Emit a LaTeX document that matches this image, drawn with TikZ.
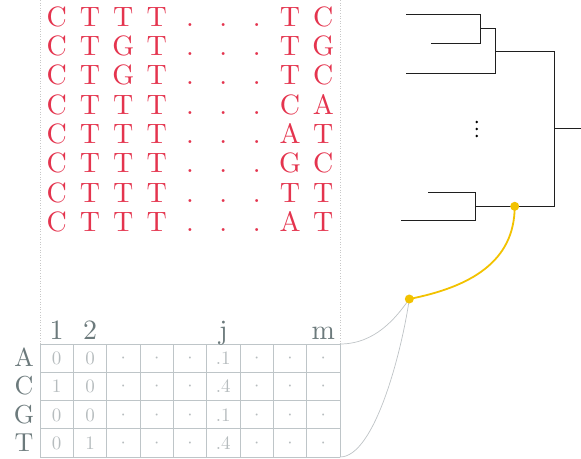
\documentclass[tikz,border=0pt]{standalone}
\usepackage{fontspec}
\setmainfont{lmroman10-regular.otf}
\definecolor{seqred}{RGB}{228,52,78}
\definecolor{labelgray}{RGB}{108,122,124}
\definecolor{valgray}{RGB}{182,188,190}
\definecolor{gridgray}{RGB}{190,197,200}
\definecolor{guidegray}{RGB}{200,200,200}
\definecolor{linkgray}{RGB}{190,195,198}
\definecolor{hiyellow}{RGB}{242,194,0}
\begin{document}
\begin{tikzpicture}[x=1pt,y=-1pt,
  seq/.style={text=seqred, font=\fontsize{28}{28}\selectfont, anchor=base, inner sep=0pt},
  collabel/.style={text=labelgray, font=\fontsize{28}{28}\selectfont, anchor=base, inner sep=0pt},
  rowlabel/.style={text=labelgray, font=\fontsize{26}{26}\selectfont, anchor=base, inner sep=0pt},
  cellval/.style={text=valgray, font=\fontsize{19}{19}\selectfont, anchor=base, inner sep=0pt},
  gridline/.style={draw=gridgray, line width=0.9pt},
  guide/.style={draw=guidegray, dotted, line width=0.6pt},
  branch/.style={draw=black!88, line width=1pt},
  link/.style={draw=linkgray, line width=0.7pt},
  hilite/.style={draw=hiyellow, line width=1.8pt},
  hidot/.style={circle, fill=hiyellow, inner sep=0pt, minimum size=9pt}
]
\useasboundingbox (0,0) rectangle (581,458);

% dotted guides bounding the alignment columns
\draw[guide] (40,0) -- (40,344);
\draw[guide] (340,0) -- (340,344);

% aligned sequences
\foreach \seqrow [count=\r] in {
  {C,T,T,T,.,.,.,T,C},
  {C,T,G,T,.,.,.,T,G},
  {C,T,G,T,.,.,.,T,C},
  {C,T,T,T,.,.,.,C,A},
  {C,T,T,T,.,.,.,A,T},
  {C,T,T,T,.,.,.,G,C},
  {C,T,T,T,.,.,.,T,T},
  {C,T,T,T,.,.,.,A,T}} {
  \foreach \ch [count=\c] in \seqrow {
    \node[seq] (s-\r-\c) at ({40+33.333*(\c-0.5)}, {26+29.39*(\r-1)}) {\ch};
  }
}

% profile matrix grid
\foreach \i in {0,...,4}
  \draw[gridline] (40,{344+28.25*\i}) -- (340,{344+28.25*\i});
\foreach \j in {0,...,9}
  \draw[gridline] ({40+33.333*\j},344) -- ({40+33.333*\j},457);

% column labels
\node[collabel] (col1) at (56.7,339) {1};
\node[collabel] (col2) at (90,339) {2};
\node[collabel] (colj) at (223.3,339) {j};
\node[collabel] (colm) at (323.3,339) {m};

% row labels
\foreach \base [count=\r] in {A,C,G,T}
  \node[rowlabel] (base-\base) at (24,{358.1+28.25*(\r-1)+8.6}) {\base};

% matrix entries
\foreach \vals [count=\r] in {
  {0,0,\textperiodcentered,\textperiodcentered,\textperiodcentered,.1,\textperiodcentered,\textperiodcentered,\textperiodcentered},
  {1,0,\textperiodcentered,\textperiodcentered,\textperiodcentered,.4,\textperiodcentered,\textperiodcentered,\textperiodcentered},
  {0,0,\textperiodcentered,\textperiodcentered,\textperiodcentered,.1,\textperiodcentered,\textperiodcentered,\textperiodcentered},
  {0,1,\textperiodcentered,\textperiodcentered,\textperiodcentered,.4,\textperiodcentered,\textperiodcentered,\textperiodcentered}} {
  \foreach \v [count=\c] in \vals {
    \node[cellval] (cell-\r-\c) at ({40+33.333*(\c-0.5)}, {358.1+28.25*(\r-1)+6.5}) {\v};
  }
}

% tree: leaves, internal nodes and root
\coordinate (leaf1) at (406,14);
\coordinate (leaf2) at (430.7,43.3);
\coordinate (leaf3) at (406,73.3);
\coordinate (leaf4) at (428.3,192.7);
\coordinate (leaf5) at (401,220);
\coordinate (nB) at (480,28.65);
\coordinate (nA) at (495.3,51.5);
\coordinate (nD) at (475.3,206.3);
\coordinate (root) at (554,128.9);
\coordinate (rootend) at (581,128.9);

\draw[branch] (nB) |- (leaf1);
\draw[branch] (nB) |- (leaf2);
\draw[branch] (nA) |- (nB);
\draw[branch] (nA) |- (leaf3);
\draw[branch] (nD) |- (leaf4);
\draw[branch] (nD) |- (leaf5);
\draw[branch] (root) |- (nA);
\draw[branch] (root) |- (nD);
\draw[branch] (root) -- (rootend);

% elided subtrees
\foreach \yy in {122,129,136}
  \fill[black] (476.7,\yy) circle (1.3pt);

% matrix corners and highlighted branch points
\coordinate (mtr) at (340,344);
\coordinate (mbr) at (340,457);
\coordinate (ylowpos) at (409.3,299);
\coordinate (yhighpos) at (514.7,206.3);

\draw[link] (mtr) .. controls (375,344) and (396,318) .. (ylowpos);
\draw[link] (mbr) .. controls (375,457) and (402,350) .. (ylowpos);
\draw[hilite] (yhighpos) .. controls (514.7,262) and (470,287) .. (ylowpos);

\node[hidot] (ylow) at (ylowpos) {};
\node[hidot] (yhigh) at (yhighpos) {};
\end{tikzpicture}
\end{document}
